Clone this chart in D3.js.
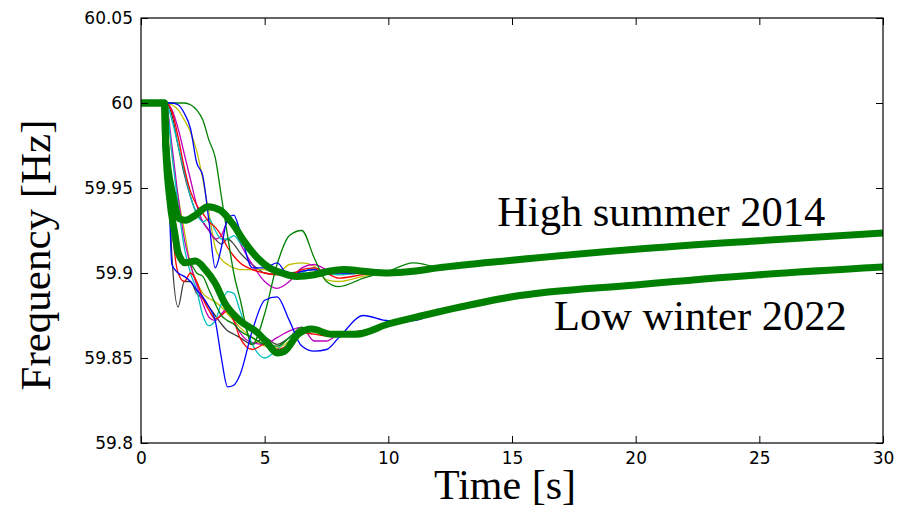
<!DOCTYPE html>
<html>
<head>
<meta charset="utf-8">
<script src="https://cdn.jsdelivr.net/npm/d3@7"></script>
<style>
  body { margin: 0; background: #fff; }
  svg { display: block; }
</style>
</head>
<body>
<div id="vis"></div>
<script>
const WIDTH = 911;
const HEIGHT = 510;
const MARGINS = {left: 141, right: 28, top: 18, bottom: 67};

// tick values
const X_TICKS = [0, 5, 10, 15, 20, 25, 30];
const Y_TICKS = [59.8, 59.85, 59.9, 59.95, 60, 60.05];

// thick lines (the two base cases)
const T_SUMMER = [0, 0.95, 1.0, 1.3, 1.55, 1.8, 2.2, 2.7, 3.2, 3.7, 4.2, 4.7, 5.2, 5.7, 6.3, 7.0, 7.6, 8.2, 9, 10, 11, 12, 15, 20, 25, 30];
const F_SUMMER = [60, 60, 59.975, 59.945, 59.932, 59.931, 59.934, 59.939, 59.937, 59.929, 59.918, 59.909, 59.903, 59.900, 59.898, 59.899, 59.901, 59.902, 59.901, 59.900, 59.901, 59.903, 59.9075, 59.914, 59.919, 59.9235];

const T_WINTER = [0, 0.95, 1.0, 1.15, 1.38, 1.5, 1.78, 2.2, 2.6, 3.0, 3.4, 4.0, 4.7, 5.1, 5.5, 5.8, 6.35, 6.9, 7.7, 8.7, 10, 11.4, 12.6, 15, 20, 25, 30];
const F_WINTER = [60, 60, 59.975, 59.945, 59.922, 59.912, 59.906, 59.907, 59.902, 59.894, 59.882, 59.872, 59.865, 59.859, 59.853, 59.854, 59.864, 59.867, 59.864, 59.864, 59.870, 59.875, 59.879, 59.886, 59.893, 59.899, 59.9035];

// thin lines (contingency cases), shared time grid
const T_THIN = [0, 1, 1.25, 1.5, 1.75, 2, 2.25, 2.5, 2.75, 3, 3.25, 3.5, 3.75, 4, 4.5, 5, 5.5, 6, 6.5, 7, 7.5, 8, 9, 10, 11, 12];

const S_BLUE    = [60, 60, 60, 59.999, 59.994, 59.985, 59.965, 59.957, 59.93, 59.903, 59.915, 59.932, 59.934, 59.925, 59.903, 59.903, 59.906, 59.898, 59.901, 59.902, 59.9, 59.9, 59.9, 59.9, 59.901, 59.903];
const S_GREEN   = [60, 60, 60, 60, 60, 59.999, 59.996, 59.99, 59.978, 59.968, 59.945, 59.922, 59.9, 59.885, 59.858, 59.876, 59.905, 59.922, 59.925, 59.909, 59.895, 59.892, 59.897, 59.901, 59.906, 59.903];
const S_RED     = [60, 60, 59.995, 59.98, 59.962, 59.948, 59.94, 59.935, 59.93, 59.927, 59.922, 59.915, 59.91, 59.906, 59.902, 59.9, 59.899, 59.899, 59.902, 59.903, 59.9, 59.897, 59.899, 59.9, 59.9, 59.902];
const S_CYAN    = [60, 60, 59.99, 59.975, 59.96, 59.945, 59.935, 59.93, 59.932, 59.925, 59.92, 59.92, 59.922, 59.918, 59.91, 59.903, 59.9, 59.898, 59.9, 59.903, 59.9, 59.899, 59.9, 59.9, 59.9, 59.902];
const S_MAGENTA = [60, 60, 59.996, 59.985, 59.97, 59.955, 59.94, 59.93, 59.925, 59.92, 59.922, 59.93, 59.927, 59.918, 59.905, 59.895, 59.891, 59.895, 59.903, 59.905, 59.902, 59.9, 59.9, 59.9, 59.9, 59.902];
const S_YELLOW  = [60, 60, 59.999, 59.996, 59.99, 59.983, 59.972, 59.955, 59.935, 59.915, 59.908, 59.905, 59.903, 59.902, 59.902, 59.902, 59.9, 59.905, 59.906, 59.904, 59.896, 59.895, 59.898, 59.9, 59.9, 59.902];
const S_BLACK   = [60, 60, 59.993, 59.975, 59.958, 59.945, 59.935, 59.93, 59.925, 59.92, 59.917, 59.92, 59.917, 59.912, 59.905, 59.9, 59.899, 59.9, 59.901, 59.902, 59.9, 59.899, 59.9, 59.9, 59.9, 59.902];

const W_BLUE    = [60, 60, 59.905, 59.9, 59.898, 59.895, 59.89, 59.886, 59.88, 59.872, 59.85, 59.833, 59.834, 59.84, 59.866, 59.884, 59.886, 59.872, 59.857, 59.854, 59.855, 59.862, 59.875, 59.872, 59.872, 59.879];
const W_GREEN   = [60, 60, 59.93, 59.915, 59.905, 59.905, 59.9, 59.898, 59.89, 59.882, 59.875, 59.872, 59.87, 59.866, 59.862, 59.858, 59.857, 59.862, 59.868, 59.867, 59.865, 59.865, 59.866, 59.87, 59.874, 59.878];
const W_RED     = [60, 60, 59.93, 59.9, 59.895, 59.9, 59.895, 59.885, 59.878, 59.873, 59.875, 59.878, 59.872, 59.862, 59.855, 59.858, 59.855, 59.858, 59.865, 59.864, 59.863, 59.865, 59.866, 59.87, 59.874, 59.878];
const W_CYAN    = [60, 60, 59.97, 59.94, 59.915, 59.9, 59.89, 59.875, 59.869, 59.872, 59.882, 59.889, 59.888, 59.878, 59.858, 59.85, 59.855, 59.862, 59.866, 59.866, 59.865, 59.865, 59.866, 59.87, 59.874, 59.878];
const W_MAGENTA = [60, 60, 59.975, 59.945, 59.92, 59.905, 59.893, 59.882, 59.874, 59.872, 59.876, 59.879, 59.872, 59.865, 59.859, 59.858, 59.862, 59.866, 59.868, 59.86, 59.86, 59.864, 59.866, 59.87, 59.874, 59.878];
const W_YELLOW  = [60, 60, 59.97, 59.945, 59.925, 59.905, 59.895, 59.888, 59.885, 59.883, 59.88, 59.876, 59.872, 59.868, 59.862, 59.857, 59.856, 59.86, 59.866, 59.866, 59.865, 59.865, 59.866, 59.87, 59.874, 59.878];
const W_BLACK   = [60, 60, 59.91, 59.88, 59.895, 59.895, 59.888, 59.885, 59.88, 59.875, 59.87, 59.866, 59.864, 59.862, 59.858, 59.862, 59.858, 59.862, 59.868, 59.866, 59.864, 59.865, 59.866, 59.87, 59.874, 59.878];

// matplotlib classic colours
const C = {b: "#0000ff", g: "#008000", r: "#ff0000", c: "#00bfbf", m: "#bf00bf", y: "#bfbf00", k: "#3f3f3f"};

const thinLines = [
  [W_BLACK, C.k], [S_BLACK, C.k],
  [W_YELLOW, C.y], [S_YELLOW, C.y],
  [W_MAGENTA, C.m], [S_MAGENTA, C.m],
  [W_CYAN, C.c], [S_CYAN, C.c],
  [W_RED, C.r], [S_RED, C.r],
  [W_GREEN, C.g], [S_GREEN, C.g],
  [W_BLUE, C.b], [S_BLUE, C.b]
];

const FRAME = d3.select("#vis")
  .append("svg")
    .attr("width", WIDTH)
    .attr("height", HEIGHT);

const X_SCALE = d3.scaleLinear()
  .domain([0, 30])
  .range([MARGINS.left, WIDTH - MARGINS.right]);

const Y_SCALE = d3.scaleLinear()
  .domain([59.8, 60.05])
  .range([HEIGHT - MARGINS.bottom, MARGINS.top]);

FRAME.append("clipPath").attr("id", "plot-clip")
  .append("rect")
    .attr("x", X_SCALE(0))
    .attr("y", Y_SCALE(60.05))
    .attr("width", X_SCALE(30) - X_SCALE(0))
    .attr("height", Y_SCALE(59.8) - Y_SCALE(60.05));

const line = d3.line()
  .x((d) => X_SCALE(d[0]))
  .y((d) => Y_SCALE(d[1]))
  .curve(d3.curveMonotoneX);

const plot = FRAME.append("g").attr("clip-path", "url(#plot-clip)");

// thin lines first
thinLines.forEach(([vals, color]) => {
  plot.append("path")
    .datum(d3.zip(T_THIN, vals))
    .attr("d", line)
    .attr("fill", "none")
    .attr("stroke", color)
    .attr("stroke-width", 1.3)
    .attr("stroke-linejoin", "round");
});

// thick base cases on top
[[T_WINTER, F_WINTER], [T_SUMMER, F_SUMMER]].forEach(([ts, fs]) => {
  plot.append("path")
    .datum(d3.zip(ts, fs))
    .attr("d", line)
    .attr("fill", "none")
    .attr("stroke", "#008000")
    .attr("stroke-width", 7)
    .attr("stroke-linejoin", "round");
});

// axes, ticks point inwards on all four sides
const fmtY = (d) => String(+d.toFixed(2));
const TICK = 7;

function styleAxis(g) {
  g.select(".domain").remove();
  g.selectAll("line").attr("stroke", "#000").attr("stroke-width", 1);
  g.selectAll("text")
    .attr("fill", "#000")
    .attr("font-family", "DejaVu Sans, sans-serif")
    .attr("font-size", "17px");
}

FRAME.append("g")
  .attr("transform", "translate(" + MARGINS.left + ",0)")
  .call(d3.axisLeft(Y_SCALE).tickValues(Y_TICKS).tickFormat(fmtY)
        .tickSizeInner(-TICK).tickSizeOuter(0).tickPadding(8))
  .call(styleAxis);

FRAME.append("g")
  .attr("transform", "translate(" + X_SCALE(30) + ",0)")
  .call(d3.axisRight(Y_SCALE).tickValues(Y_TICKS).tickFormat("")
        .tickSizeInner(-TICK).tickSizeOuter(0))
  .call(styleAxis);

FRAME.append("g")
  .attr("transform", "translate(0," + Y_SCALE(59.8) + ")")
  .call(d3.axisBottom(X_SCALE).tickValues(X_TICKS).tickFormat(d3.format("d"))
        .tickSizeInner(-TICK).tickSizeOuter(0).tickPadding(9))
  .call(styleAxis);

FRAME.append("g")
  .attr("transform", "translate(0," + Y_SCALE(60.05) + ")")
  .call(d3.axisTop(X_SCALE).tickValues(X_TICKS).tickFormat("")
        .tickSizeInner(-TICK).tickSizeOuter(0))
  .call(styleAxis);

// frame box
FRAME.append("rect")
  .attr("x", X_SCALE(0))
  .attr("y", Y_SCALE(60.05))
  .attr("width", X_SCALE(30) - X_SCALE(0))
  .attr("height", Y_SCALE(59.8) - Y_SCALE(60.05))
  .attr("fill", "none")
  .attr("stroke", "#000")
  .attr("stroke-width", 1.2);

// axis titles and annotations
const SERIF = "Liberation Serif, Times New Roman, serif";

FRAME.append("text")
  .attr("x", 505)
  .attr("y", 499)
  .attr("text-anchor", "middle")
  .attr("font-family", SERIF)
  .attr("font-size", "42px")
  .text("Time [s]");

FRAME.append("text")
  .attr("transform", "translate(50,255) rotate(-90)")
  .attr("text-anchor", "middle")
  .attr("font-family", SERIF)
  .attr("font-size", "43px")
  .text("Frequency [Hz]");

FRAME.append("text")
  .attr("x", X_SCALE(14.4))
  .attr("y", Y_SCALE(59.9276))
  .attr("font-family", SERIF)
  .attr("font-size", "42.5px")
  .text("High summer 2014");

FRAME.append("text")
  .attr("x", X_SCALE(16.7))
  .attr("y", Y_SCALE(59.8665))
  .attr("font-family", SERIF)
  .attr("font-size", "42.5px")
  .text("Low winter 2022");
</script>
</body>
</html>
